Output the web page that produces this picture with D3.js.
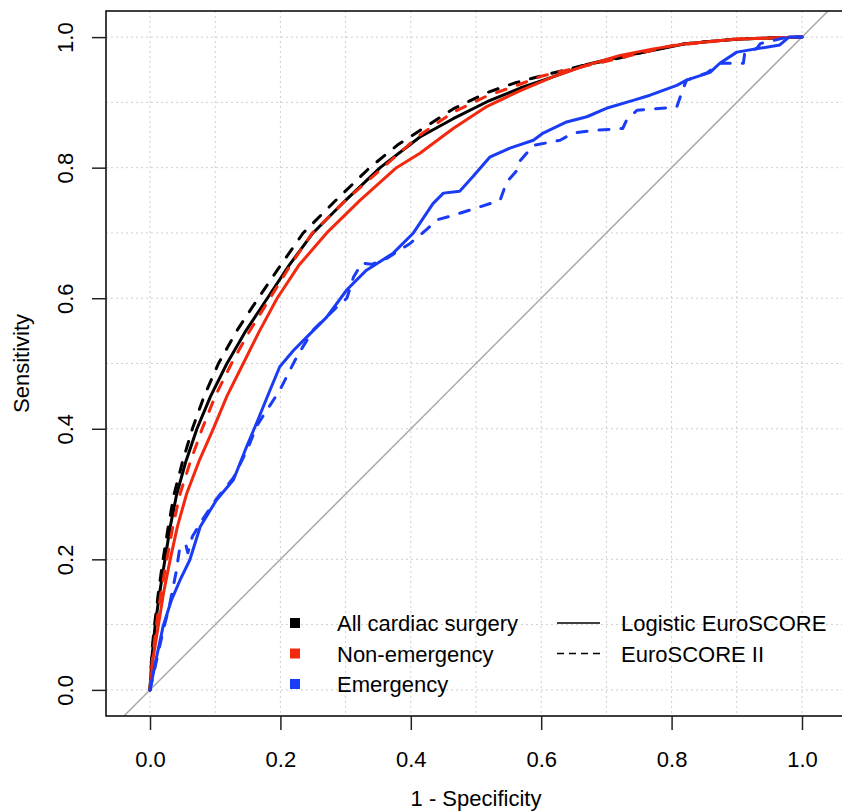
<!DOCTYPE html>
<html>
<head>
<meta charset="utf-8">
<script src="https://cdn.jsdelivr.net/npm/d3@7"></script>
<style>
	body { margin: 0; background: #fff; }
	svg text { font-family: 'Liberation Sans', Helvetica, Arial, sans-serif; fill: #000; }
</style>
</head>
<body>
<div id="chart"></div>
<script>
// ROC curves, [1 - specificity, sensitivity] pairs
var allLogistic = [[0,0],[0.003,0.05],[0.008,0.1],[0.015,0.15],[0.023,0.2],[0.031,0.25],[0.041,0.3],[0.055,0.35],[0.072,0.4],[0.093,0.45],[0.118,0.5],[0.147,0.55],[0.18,0.6],[0.213,0.65],[0.25,0.7],[0.3,0.75],[0.353,0.8],[0.414,0.847],[0.465,0.875],[0.517,0.901],[0.568,0.922],[0.618,0.939],[0.67,0.958],[0.721,0.97],[0.772,0.98],[0.823,0.99],[0.875,0.995],[0.925,0.998],[1,1]];
var allES2 = [[0,0],[0.003,0.06],[0.007,0.1],[0.013,0.15],[0.02,0.2],[0.028,0.25],[0.037,0.3],[0.05,0.35],[0.065,0.4],[0.083,0.45],[0.105,0.5],[0.133,0.55],[0.166,0.6],[0.2,0.65],[0.235,0.7],[0.285,0.75],[0.337,0.8],[0.38,0.835],[0.414,0.857],[0.465,0.89],[0.517,0.915],[0.56,0.93],[0.618,0.945],[0.67,0.958],[0.72,0.968],[0.77,0.98],[0.82,0.99],[0.9,0.997],[1,1]];
var nonEmLogistic = [[0,0],[0.005,0.05],[0.013,0.1],[0.021,0.15],[0.031,0.2],[0.042,0.25],[0.056,0.3],[0.075,0.35],[0.097,0.4],[0.118,0.45],[0.143,0.5],[0.168,0.55],[0.195,0.6],[0.228,0.65],[0.271,0.7],[0.322,0.75],[0.378,0.8],[0.414,0.822],[0.465,0.86],[0.517,0.894],[0.568,0.918],[0.618,0.939],[0.67,0.957],[0.721,0.972],[0.772,0.982],[0.823,0.99],[0.9,0.997],[1,1]];
var nonEmES2 = [[0,0],[0.004,0.05],[0.01,0.1],[0.017,0.15],[0.026,0.2],[0.035,0.25],[0.046,0.3],[0.062,0.35],[0.08,0.4],[0.1,0.45],[0.125,0.5],[0.153,0.55],[0.184,0.6],[0.215,0.65],[0.249,0.7],[0.3,0.75],[0.357,0.8],[0.414,0.85],[0.465,0.885],[0.517,0.91],[0.56,0.925],[0.6,0.94],[0.65,0.952],[0.7,0.963],[0.75,0.975],[0.8,0.987],[0.9,0.997],[1,1]];
var emLogistic = [[0,0],[0.01,0.05],[0.02,0.097],[0.033,0.138],[0.046,0.168],[0.061,0.199],[0.077,0.25],[0.102,0.291],[0.128,0.322],[0.148,0.372],[0.164,0.41],[0.184,0.459],[0.199,0.495],[0.22,0.52],[0.24,0.54],[0.271,0.571],[0.302,0.613],[0.332,0.643],[0.373,0.669],[0.404,0.7],[0.434,0.745],[0.45,0.761],[0.475,0.764],[0.495,0.786],[0.521,0.816],[0.552,0.83],[0.588,0.842],[0.603,0.853],[0.639,0.87],[0.67,0.878],[0.7,0.891],[0.741,0.903],[0.767,0.911],[0.808,0.926],[0.823,0.934],[0.859,0.946],[0.874,0.96],[0.9,0.977],[0.966,0.988],[0.98,1],[1,1]];
var emES2 = [[0,0],[0.01,0.045],[0.02,0.09],[0.03,0.13],[0.04,0.18],[0.046,0.22],[0.055,0.222],[0.058,0.21],[0.065,0.235],[0.08,0.26],[0.1,0.29],[0.128,0.325],[0.15,0.37],[0.164,0.405],[0.199,0.459],[0.225,0.51],[0.25,0.551],[0.287,0.587],[0.302,0.6],[0.312,0.632],[0.325,0.654],[0.34,0.652],[0.363,0.661],[0.399,0.684],[0.424,0.705],[0.44,0.72],[0.465,0.727],[0.506,0.74],[0.537,0.75],[0.547,0.778],[0.563,0.796],[0.567,0.81],[0.588,0.834],[0.629,0.842],[0.649,0.853],[0.679,0.857],[0.725,0.86],[0.731,0.873],[0.747,0.888],[0.808,0.893],[0.818,0.922],[0.823,0.934],[0.854,0.945],[0.874,0.96],[0.91,0.96],[0.912,0.974],[0.931,0.983],[0.936,0.99],[0.977,1],[1,1]];

var groupNames = ['All cardiac surgery', 'Non-emergency', 'Emergency'];
var groupColors = ['#000000', '#f2290f', '#1a3cf5'];
var scoreNames = ['Logistic EuroSCORE', 'EuroSCORE II'];
var xTicks = [0, 0.2, 0.4, 0.6, 0.8, 1.0];
var yTicks = [0, 0.2, 0.4, 0.6, 0.8, 1.0];
var gridTicks = d3.range(0, 11).map(function(i){ return i / 10; });

var width = 842, height = 812;
var box = {left: 106, right: 846, top: 11, bottom: 716};
var fontSize = 22;

var svg = d3.select('#chart').append('svg')
	.attr('width', width)
	.attr('height', height);

var x = d3.scaleLinear().domain([-0.0675, 1.0675]).range([box.left, box.right]);
var y = d3.scaleLinear().domain([-0.04, 1.04]).range([box.bottom, box.top]);

var line = d3.line()
	.x(function(d) { return x(d[0]); })
	.y(function(d) { return y(d[1]); });

addGrid = function(){
	var g = svg.append('g').attr('class', 'grid')
		.attr('stroke', '#cfcfcf')
		.attr('stroke-width', 1)
		.attr('stroke-dasharray', '2,3');
	g.selectAll('line.gx')
		.data(gridTicks)
		.enter()
		.append('line')
		.attr('x1', function(d) { return x(d); })
		.attr('x2', function(d) { return x(d); })
		.attr('y1', box.top)
		.attr('y2', box.bottom);
	g.selectAll('line.gy')
		.data(gridTicks)
		.enter()
		.append('line')
		.attr('y1', function(d) { return y(d); })
		.attr('y2', function(d) { return y(d); })
		.attr('x1', box.left)
		.attr('x2', box.right);
};

addCurves = function(){
	svg.append('clipPath').attr('id', 'plotClip')
		.append('rect')
		.attr('x', box.left).attr('y', box.top)
		.attr('width', box.right - box.left).attr('height', box.bottom - box.top);

	var g = svg.append('g').attr('clip-path', 'url(#plotClip)');

	// chance line
	g.append('path')
		.attr('d', line([[-0.04, -0.04], [1.04, 1.04]]))
		.attr('stroke', '#a9a9a9')
		.attr('stroke-width', 1.5)
		.attr('fill', 'none');

	var curves = [
		{data: allLogistic, color: groupColors[0], dashed: false},
		{data: allES2, color: groupColors[0], dashed: true},
		{data: nonEmLogistic, color: groupColors[1], dashed: false},
		{data: nonEmES2, color: groupColors[1], dashed: true},
		{data: emLogistic, color: groupColors[2], dashed: false},
		{data: emES2, color: groupColors[2], dashed: true}
	];

	g.selectAll('path.roc')
		.data(curves)
		.enter()
		.append('path')
		.attr('class', 'roc')
		.attr('d', function(d) { return line(d.data); })
		.attr('fill', 'none')
		.attr('stroke', function(d) { return d.color; })
		.attr('stroke-width', 3)
		.attr('stroke-linecap', 'round')
		.attr('stroke-linejoin', 'round')
		.attr('stroke-dasharray', function(d) { return d.dashed ? '10,12' : null; });
};

addAxes = function(){
	// box: left, top, bottom (right side falls outside the picture)
	svg.append('path')
		.attr('d', 'M' + box.right + ',' + box.top + 'H' + box.left + 'V' + box.bottom + 'H' + box.right)
		.attr('fill', 'none')
		.attr('stroke', '#000')
		.attr('stroke-width', 1.5);

	var xAxis = svg.append('g')
		.attr('transform', 'translate(0,' + box.bottom + ')')
		.call(d3.axisBottom(x).tickValues(xTicks).tickSize(14).tickPadding(0).tickFormat(d3.format('.1f')));
	xAxis.select('.domain').remove();
	xAxis.selectAll('.tick line').attr('stroke', '#222').attr('stroke-width', 1.5);
	xAxis.selectAll('.tick text')
		.attr('y', 51)
		.attr('dy', null)
		.attr('font-size', fontSize);

	var yAxis = svg.append('g')
		.attr('transform', 'translate(' + box.left + ',0)')
		.call(d3.axisLeft(y).tickValues(yTicks).tickSize(14).tickPadding(0).tickFormat(d3.format('.1f')));
	yAxis.select('.domain').remove();
	yAxis.selectAll('.tick line').attr('stroke', '#222').attr('stroke-width', 1.5);
	yAxis.selectAll('.tick text')
		.attr('x', null)
		.attr('dy', null)
		.attr('text-anchor', 'middle')
		.attr('transform', 'translate(-33,0) rotate(-90)')
		.attr('font-size', fontSize);

	svg.append('text')
		.attr('x', (box.left + box.right) / 2)
		.attr('y', 806)
		.attr('text-anchor', 'middle')
		.attr('font-size', fontSize)
		.text('1 - Specificity');

	svg.append('text')
		.attr('transform', 'translate(29,' + (box.top + box.bottom) / 2 + ') rotate(-90)')
		.attr('text-anchor', 'middle')
		.attr('font-size', fontSize)
		.text('Sensitivity');
};

addLegend = function(){
	var rowY = function(i) { return 623 + i * 30.5; };

	var g1 = svg.append('g').attr('class', 'legendGroups');
	g1.selectAll('rect')
		.data(groupNames)
		.enter()
		.append('rect')
		.attr('x', 290)
		.attr('y', function(d, i) { return rowY(i) - 5; })
		.attr('width', 10)
		.attr('height', 10)
		.attr('fill', function(d, i) { return groupColors[i]; });
	g1.selectAll('text')
		.data(groupNames)
		.enter()
		.append('text')
		.attr('x', 337)
		.attr('y', function(d, i) { return rowY(i) + 8; })
		.attr('font-size', fontSize)
		.text(function(d) { return d; });

	var g2 = svg.append('g').attr('class', 'legendScores');
	g2.selectAll('line')
		.data(scoreNames)
		.enter()
		.append('line')
		.attr('x1', 557)
		.attr('x2', 600)
		.attr('y1', function(d, i) { return rowY(i); })
		.attr('y2', function(d, i) { return rowY(i); })
		.attr('stroke', '#000')
		.attr('stroke-width', 1.3)
		.attr('stroke-dasharray', function(d, i) { return i == 1 ? '7,5' : null; });
	g2.selectAll('text')
		.data(scoreNames)
		.enter()
		.append('text')
		.attr('x', 621)
		.attr('y', function(d, i) { return rowY(i) + 8; })
		.attr('font-size', fontSize)
		.text(function(d) { return d; });
};

addGrid();
addCurves();
addAxes();
addLegend();
</script>
</body>
</html>
